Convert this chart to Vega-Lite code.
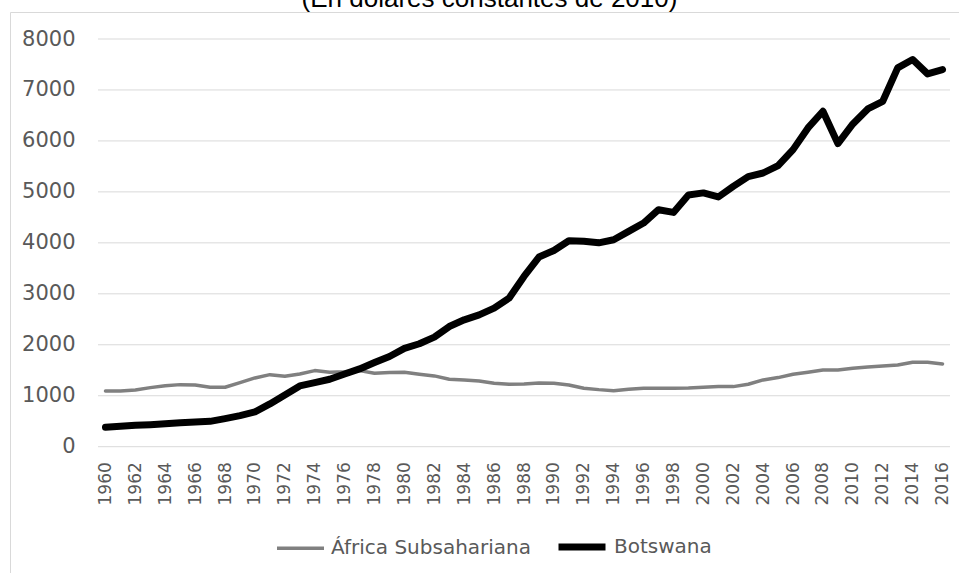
{
  "$schema": "https://vega.github.io/schema/vega-lite/v6.json",
  "width": 949,
  "height": 561,
  "autosize": {"type": "none"},
  "padding": {"left": 10, "top": 12, "right": 0, "bottom": 0},
  "background": "#ffffff",
  "title": {
    "text": "(En dólares constantes de 2010)",
    "font": "Liberation Sans",
    "fontSize": 26,
    "fontWeight": "normal",
    "color": "#000000",
    "anchor": "middle",
    "frame": "group",
    "baseline": "alphabetic",
    "offset": 4,
    "dx": 5,
    "dy": 25
  },
  "config": {
    "view": {"stroke": "#d9d9d9", "strokeWidth": 1},
    "font": "DejaVu Sans",
    "axis": {"labelOverlap": false},
    "legend": {"labelLimit": 400}
  },
  "resolve": {"axis": {"x": "independent", "y": "independent"}},
  "datasets": {
    "grid": [
      {"value": 0}, {"value": 1000}, {"value": 2000}, {"value": 3000}, {"value": 4000},
      {"value": 5000}, {"value": 6000}, {"value": 7000}, {"value": 8000}
    ],
    "gdp": [
      {"year": 1960, "series": "África Subsahariana", "value": 1094},
      {"year": 1961, "series": "África Subsahariana", "value": 1094},
      {"year": 1962, "series": "África Subsahariana", "value": 1114},
      {"year": 1963, "series": "África Subsahariana", "value": 1159},
      {"year": 1964, "series": "África Subsahariana", "value": 1198},
      {"year": 1965, "series": "África Subsahariana", "value": 1218},
      {"year": 1966, "series": "África Subsahariana", "value": 1212},
      {"year": 1967, "series": "África Subsahariana", "value": 1166},
      {"year": 1968, "series": "África Subsahariana", "value": 1166},
      {"year": 1969, "series": "África Subsahariana", "value": 1257},
      {"year": 1970, "series": "África Subsahariana", "value": 1349},
      {"year": 1971, "series": "África Subsahariana", "value": 1414},
      {"year": 1972, "series": "África Subsahariana", "value": 1382},
      {"year": 1973, "series": "África Subsahariana", "value": 1428},
      {"year": 1974, "series": "África Subsahariana", "value": 1493},
      {"year": 1975, "series": "África Subsahariana", "value": 1460},
      {"year": 1976, "series": "África Subsahariana", "value": 1473},
      {"year": 1977, "series": "África Subsahariana", "value": 1493},
      {"year": 1978, "series": "África Subsahariana", "value": 1441},
      {"year": 1979, "series": "África Subsahariana", "value": 1454},
      {"year": 1980, "series": "África Subsahariana", "value": 1460},
      {"year": 1981, "series": "África Subsahariana", "value": 1422},
      {"year": 1982, "series": "África Subsahariana", "value": 1389},
      {"year": 1983, "series": "África Subsahariana", "value": 1324},
      {"year": 1984, "series": "África Subsahariana", "value": 1311},
      {"year": 1985, "series": "África Subsahariana", "value": 1291},
      {"year": 1986, "series": "África Subsahariana", "value": 1245},
      {"year": 1987, "series": "África Subsahariana", "value": 1226},
      {"year": 1988, "series": "África Subsahariana", "value": 1232},
      {"year": 1989, "series": "África Subsahariana", "value": 1252},
      {"year": 1990, "series": "África Subsahariana", "value": 1245},
      {"year": 1991, "series": "África Subsahariana", "value": 1212},
      {"year": 1992, "series": "África Subsahariana", "value": 1147},
      {"year": 1993, "series": "África Subsahariana", "value": 1120},
      {"year": 1994, "series": "África Subsahariana", "value": 1100},
      {"year": 1995, "series": "África Subsahariana", "value": 1127},
      {"year": 1996, "series": "África Subsahariana", "value": 1147},
      {"year": 1997, "series": "África Subsahariana", "value": 1147},
      {"year": 1998, "series": "África Subsahariana", "value": 1147},
      {"year": 1999, "series": "África Subsahariana", "value": 1153},
      {"year": 2000, "series": "África Subsahariana", "value": 1166},
      {"year": 2001, "series": "África Subsahariana", "value": 1179},
      {"year": 2002, "series": "África Subsahariana", "value": 1179},
      {"year": 2003, "series": "África Subsahariana", "value": 1225},
      {"year": 2004, "series": "África Subsahariana", "value": 1310},
      {"year": 2005, "series": "África Subsahariana", "value": 1356},
      {"year": 2006, "series": "África Subsahariana", "value": 1421},
      {"year": 2007, "series": "África Subsahariana", "value": 1461},
      {"year": 2008, "series": "África Subsahariana", "value": 1507},
      {"year": 2009, "series": "África Subsahariana", "value": 1507},
      {"year": 2010, "series": "África Subsahariana", "value": 1540},
      {"year": 2011, "series": "África Subsahariana", "value": 1566},
      {"year": 2012, "series": "África Subsahariana", "value": 1585},
      {"year": 2013, "series": "África Subsahariana", "value": 1605},
      {"year": 2014, "series": "África Subsahariana", "value": 1658},
      {"year": 2015, "series": "África Subsahariana", "value": 1658},
      {"year": 2016, "series": "África Subsahariana", "value": 1625},
      {"year": 1960, "series": "Botswana", "value": 381},
      {"year": 1961, "series": "Botswana", "value": 400},
      {"year": 1962, "series": "Botswana", "value": 420},
      {"year": 1963, "series": "Botswana", "value": 433},
      {"year": 1964, "series": "Botswana", "value": 452},
      {"year": 1965, "series": "Botswana", "value": 472},
      {"year": 1966, "series": "Botswana", "value": 485},
      {"year": 1967, "series": "Botswana", "value": 498},
      {"year": 1968, "series": "Botswana", "value": 551},
      {"year": 1969, "series": "Botswana", "value": 610},
      {"year": 1970, "series": "Botswana", "value": 682},
      {"year": 1971, "series": "Botswana", "value": 839},
      {"year": 1972, "series": "Botswana", "value": 1016},
      {"year": 1973, "series": "Botswana", "value": 1192},
      {"year": 1974, "series": "Botswana", "value": 1258},
      {"year": 1975, "series": "Botswana", "value": 1323},
      {"year": 1976, "series": "Botswana", "value": 1428},
      {"year": 1977, "series": "Botswana", "value": 1526},
      {"year": 1978, "series": "Botswana", "value": 1651},
      {"year": 1979, "series": "Botswana", "value": 1769},
      {"year": 1980, "series": "Botswana", "value": 1930},
      {"year": 1981, "series": "Botswana", "value": 2020},
      {"year": 1982, "series": "Botswana", "value": 2150},
      {"year": 1983, "series": "Botswana", "value": 2358},
      {"year": 1984, "series": "Botswana", "value": 2490},
      {"year": 1985, "series": "Botswana", "value": 2587},
      {"year": 1986, "series": "Botswana", "value": 2719},
      {"year": 1987, "series": "Botswana", "value": 2915},
      {"year": 1988, "series": "Botswana", "value": 3340},
      {"year": 1989, "series": "Botswana", "value": 3721},
      {"year": 1990, "series": "Botswana", "value": 3851},
      {"year": 1991, "series": "Botswana", "value": 4040},
      {"year": 1992, "series": "Botswana", "value": 4030},
      {"year": 1993, "series": "Botswana", "value": 4000},
      {"year": 1994, "series": "Botswana", "value": 4061},
      {"year": 1995, "series": "Botswana", "value": 4224},
      {"year": 1996, "series": "Botswana", "value": 4389},
      {"year": 1997, "series": "Botswana", "value": 4650},
      {"year": 1998, "series": "Botswana", "value": 4597},
      {"year": 1999, "series": "Botswana", "value": 4940},
      {"year": 2000, "series": "Botswana", "value": 4980},
      {"year": 2001, "series": "Botswana", "value": 4900},
      {"year": 2002, "series": "Botswana", "value": 5108},
      {"year": 2003, "series": "Botswana", "value": 5300},
      {"year": 2004, "series": "Botswana", "value": 5371},
      {"year": 2005, "series": "Botswana", "value": 5515},
      {"year": 2006, "series": "Botswana", "value": 5829},
      {"year": 2007, "series": "Botswana", "value": 6255},
      {"year": 2008, "series": "Botswana", "value": 6582},
      {"year": 2009, "series": "Botswana", "value": 5947},
      {"year": 2010, "series": "Botswana", "value": 6334},
      {"year": 2011, "series": "Botswana", "value": 6628},
      {"year": 2012, "series": "Botswana", "value": 6778},
      {"year": 2013, "series": "Botswana", "value": 7434},
      {"year": 2014, "series": "Botswana", "value": 7597},
      {"year": 2015, "series": "Botswana", "value": 7316},
      {"year": 2016, "series": "Botswana", "value": 7400}
    ]
  },
  "layer": [
    {
      "data": {"name": "grid"},
      "mark": {"type": "rule", "color": "#d9d9d9", "strokeWidth": 1},
      "encoding": {
        "y": {"field": "value", "type": "quantitative", "axis": null},
        "x": {"datum": 1959.5, "type": "quantitative", "axis": null},
        "x2": {"datum": 2016.5}
      }
    },
    {
      "data": {"name": "gdp"},
      "mark": {"type": "line", "strokeJoin": "round", "strokeCap": "round"},
      "encoding": {
        "x": {
          "field": "year",
          "type": "quantitative",
          "scale": {"domain": [1959.5, 2016.5], "range": [88, 940], "nice": false, "zero": false},
          "axis": {
            "orient": "bottom",
            "offset": -126.3,
            "values": [1960, 1962, 1964, 1966, 1968, 1970, 1972, 1974, 1976, 1978, 1980, 1982, 1984, 1986, 1988, 1990, 1992, 1994, 1996, 1998, 2000, 2002, 2004, 2006, 2008, 2010, 2012, 2014, 2016],
            "format": "d",
            "labelAngle": -90,
            "labelPadding": 15,
            "labelOverlap": false,
            "labelFontSize": 17,
            "labelColor": "#595959",
            "labelFont": "DejaVu Sans",
            "ticks": false,
            "domain": false,
            "grid": false,
            "title": null
          }
        },
        "y": {
          "field": "value",
          "type": "quantitative",
          "scale": {"domain": [0, 8000], "range": [434.7, 27], "nice": false},
          "axis": {
            "orient": "left",
            "offset": -65,
            "values": [0, 1000, 2000, 3000, 4000, 5000, 6000, 7000, 8000],
            "format": "d",
            "labelPadding": 0,
            "labelOverlap": false,
            "labelFontSize": 21,
            "labelColor": "#595959",
            "labelFont": "DejaVu Sans",
            "ticks": false,
            "domain": false,
            "grid": false,
            "title": null
          }
        },
        "color": {
          "field": "series",
          "type": "nominal",
          "scale": {"domain": ["África Subsahariana", "Botswana"], "range": ["#808080", "#000000"]},
          "legend": {
            "orient": "none",
            "legendX": 265,
            "legendY": 508,
            "direction": "horizontal",
            "title": null,
            "symbolType": "stroke",
            "symbolSize": 2209,
            "labelFontSize": 20,
            "labelFont": "DejaVu Sans",
            "labelColor": "#595959",
            "labelOffset": 5,
            "labelLimit": 400,
            "columnPadding": 12,
            "padding": 0
          }
        },
        "strokeWidth": {
          "field": "series",
          "type": "nominal",
          "scale": {"domain": ["África Subsahariana", "Botswana"], "range": [3.5, 7]},
          "legend": {
            "orient": "none",
            "legendX": 265,
            "legendY": 508,
            "direction": "horizontal",
            "title": null,
            "symbolType": "stroke",
            "symbolSize": 2209,
            "labelFontSize": 20,
            "labelFont": "DejaVu Sans",
            "labelColor": "#595959",
            "labelOffset": 5,
            "labelLimit": 400,
            "columnPadding": 12,
            "padding": 0
          }
        }
      }
    }
  ]
}
